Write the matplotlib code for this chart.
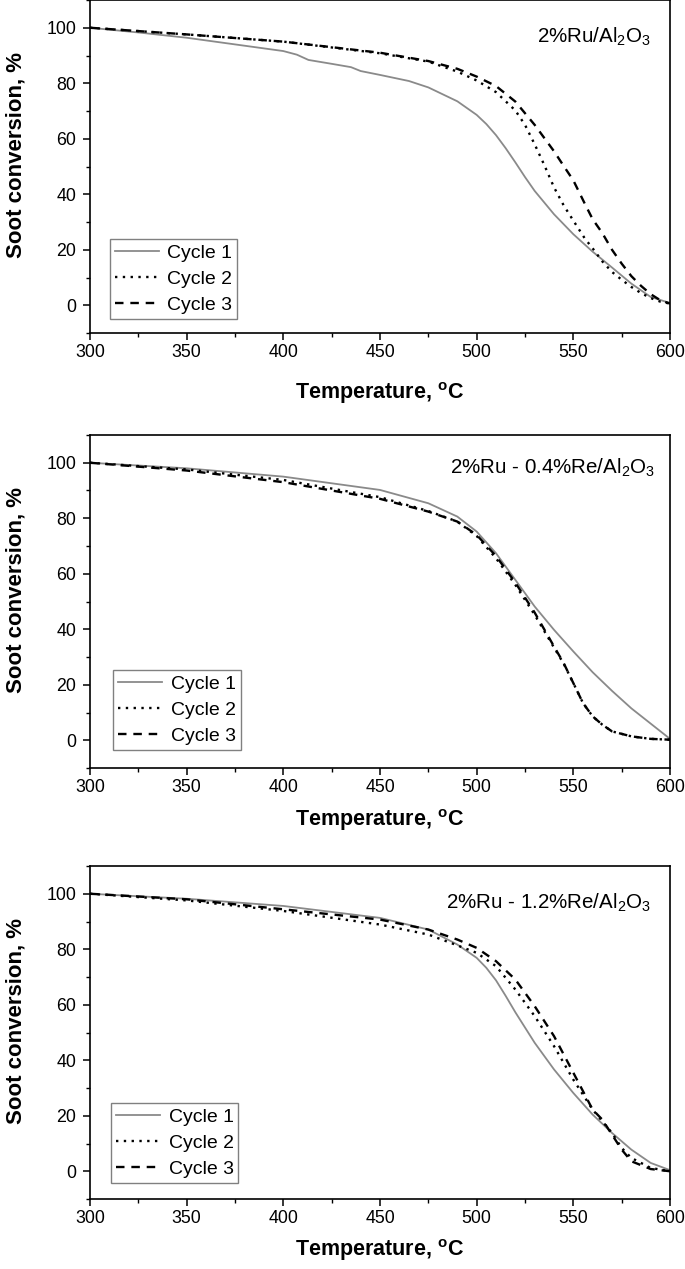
import matplotlib
matplotlib.use("Agg")
import matplotlib.pyplot as plt
from matplotlib.ticker import MultipleLocator

plt.rcParams['font.family'] = ['Liberation Sans', 'DejaVu Sans']
plt.rcParams['mathtext.fontset'] = 'custom'
plt.rcParams['mathtext.rm'] = 'Liberation Sans'
plt.rcParams['mathtext.bf'] = 'Liberation Sans:bold'
plt.rcParams['mathtext.default'] = 'regular'

# ---------------- data ----------------
panel_titles = ["2%Ru/Al$_2$O$_3$",
                "2%Ru - 0.4%Re/Al$_2$O$_3$",
                "2%Ru - 1.2%Re/Al$_2$O$_3$"]
series_labels = ["Cycle 1", "Cycle 2", "Cycle 3"]

# Panel 1: 2%Ru/Al2O3
p1_c1_T = [300, 325, 350, 375, 400, 407, 413, 425, 435, 440, 450, 465, 475, 490, 500, 505, 510, 515, 520, 525, 530, 540, 550, 560, 570, 580, 590, 600]
p1_c1_y = [100, 98.3, 96.4, 94.0, 91.6, 90.3, 88.4, 87.0, 85.8, 84.4, 83.0, 80.8, 78.5, 73.5, 68.6, 65.3, 61.3, 56.6, 51.5, 46.2, 41.2, 32.8, 25.6, 19.3, 13.6, 7.8, 3.0, 0.8]
p1_c2_T = [300, 350, 400, 450, 475, 490, 500, 510, 520, 525, 530, 535, 540, 545, 550, 556, 560, 565, 570, 575, 580, 585, 590, 595, 600]
p1_c2_y = [100, 97.6, 95.0, 90.8, 87.8, 84.2, 81.0, 76.8, 70.2, 65.0, 58.0, 50.5, 42.5, 36.0, 30.5, 24.0, 20.5, 15.8, 12.0, 9.2, 6.6, 4.4, 2.6, 1.3, 0.6]
p1_c3_T = [300, 350, 400, 450, 475, 490, 500, 510, 520, 530, 540, 545, 550, 556, 560, 565, 570, 575, 580, 585, 590, 595, 600]
p1_c3_y = [100, 97.6, 95.0, 91.0, 88.0, 85.2, 82.4, 79.0, 73.4, 65.0, 55.5, 50.2, 45.0, 36.5, 31.0, 26.0, 20.0, 15.0, 10.5, 7.0, 4.0, 1.8, 0.6]

# Panel 2: 2%Ru - 0.4%Re/Al2O3
p2_c1_T = [300, 350, 400, 450, 475, 490, 500, 510, 520, 530, 540, 550, 560, 570, 580, 590, 600]
p2_c1_y = [100, 98.0, 95.0, 90.2, 85.4, 80.6, 75.2, 67.4, 57.8, 48.2, 39.8, 32.0, 24.5, 17.8, 11.5, 6.0, 0.5]
p2_c2_T = [300, 350, 400, 450, 475, 490, 500, 510, 520, 530, 540, 545, 550, 555, 560, 565, 570, 580, 590, 600]
p2_c2_y = [100, 97.6, 93.8, 87.6, 82.6, 78.8, 73.6, 65.6, 56.0, 45.2, 33.4, 27.6, 20.6, 13.4, 8.6, 5.6, 3.2, 1.4, 0.5, 0.2]
p2_c3_T = [300, 350, 400, 450, 475, 490, 500, 510, 520, 530, 540, 545, 550, 555, 560, 565, 570, 580, 590, 600]
p2_c3_y = [100, 97.2, 93.0, 87.0, 82.4, 78.8, 74.0, 66.4, 56.8, 46.0, 33.8, 27.8, 20.6, 13.4, 8.6, 5.6, 3.2, 1.4, 0.5, 0.2]

# Panel 3: 2%Ru - 1.2%Re/Al2O3
p3_c1_T = [300, 350, 400, 450, 475, 490, 500, 505, 510, 515, 520, 530, 540, 550, 560, 570, 580, 590, 600]
p3_c1_y = [100, 98.2, 95.6, 91.3, 87.1, 81.7, 76.9, 73.3, 68.8, 63.2, 57.3, 46.3, 36.7, 28.2, 20.4, 13.8, 7.8, 3.0, 0.4]
p3_c2_T = [300, 350, 400, 450, 475, 490, 500, 510, 520, 530, 540, 550, 560, 570, 575, 580, 590, 600]
p3_c2_y = [100, 97.6, 93.8, 88.9, 85.3, 81.4, 78.7, 73.9, 65.5, 55.9, 45.1, 33.0, 22.2, 13.8, 8.4, 4.8, 1.2, 0.0]
p3_c3_T = [300, 350, 400, 450, 475, 490, 500, 510, 520, 530, 540, 550, 560, 565, 570, 575, 580, 590, 600]
p3_c3_y = [100, 98.0, 94.4, 90.7, 87.1, 83.5, 80.5, 75.7, 69.1, 59.5, 48.7, 35.5, 22.2, 18.6, 13.2, 7.8, 3.6, 0.8, 0.0]

panels = [
    [(p1_c1_T, p1_c1_y), (p1_c2_T, p1_c2_y), (p1_c3_T, p1_c3_y)],
    [(p2_c1_T, p2_c1_y), (p2_c2_T, p2_c2_y), (p2_c3_T, p2_c3_y)],
    [(p3_c1_T, p3_c1_y), (p3_c2_T, p3_c2_y), (p3_c3_T, p3_c3_y)],
]

# ---------------- styles / layout ----------------
styles = [
    dict(color='#8a8a8a', lw=1.3, linestyle='-'),
    dict(color='black', lw=1.7, linestyle=(0, (1.0, 2.3))),
    dict(color='black', lw=1.7, linestyle=(0, (3.6, 2.9))),
]

W, H = 685, 1269
fig = plt.figure(figsize=(W / 100, H / 100), dpi=100)

axes_px = [(0, 333), (435, 768), (866, 1199)]  # (top, bottom) in pixels
left_px, right_px = 90, 670
xlabel_y = [-0.18, -0.156, -0.153]
legend_anchor = [(0.034, 0.042), (0.040, 0.054), (0.036, 0.048)]
title_pos = [(0.967, 0.889), (0.974, 0.902), (0.967, 0.889)]

for i, ((top, bot), data, title) in enumerate(zip(axes_px, panels, panel_titles)):
    ax = fig.add_axes([left_px / W, 1 - bot / H, (right_px - left_px) / W, (bot - top) / H])
    for (T, y), st, lab in zip(data, styles, series_labels):
        ax.plot(T, y, label=lab, **st)
    ax.set_xlim(300, 600)
    ax.set_ylim(-10, 110)
    ax.xaxis.set_major_locator(MultipleLocator(50))
    ax.xaxis.set_minor_locator(MultipleLocator(25))
    ax.yaxis.set_minor_locator(MultipleLocator(10))
    ax.set_yticks([0, 20, 40, 60, 80, 100])
    ax.tick_params(which='major', direction='out', length=5, width=1.1, labelsize=12.8,
                   top=False, right=False)
    ax.tick_params(axis='y', which='major', pad=5)
    ax.tick_params(axis='x', which='major', pad=3)
    ax.tick_params(which='minor', direction='out', length=3, width=1.0, top=False, right=False)
    for s in ax.spines.values():
        s.set_linewidth(1.2)
    ax.set_xlabel(r'Temperature, $\mathbf{^{o}}$C', fontsize=15.5, fontweight='bold')
    ax.xaxis.set_label_coords(0.5, xlabel_y[i])
    ax.xaxis.label.set_va('center')
    ax.set_ylabel('Soot conversion, %', fontsize=16, fontweight='bold')
    ax.yaxis.set_label_coords(-0.11, 0.534)
    tx, ty = title_pos[i]
    ax.text(tx, ty, title, transform=ax.transAxes, ha='right', va='center', fontsize=14.8)
    leg = ax.legend(loc='lower left', bbox_to_anchor=legend_anchor[i], borderaxespad=0,
                    fontsize=14, handlelength=2.26, handletextpad=0.46, labelspacing=0.44,
                    borderpad=0.25, fancybox=False, framealpha=1)
    leg.get_frame().set_edgecolor('#808080')
    leg.get_frame().set_linewidth(1.0)

fig.savefig('out.png', dpi=100)
